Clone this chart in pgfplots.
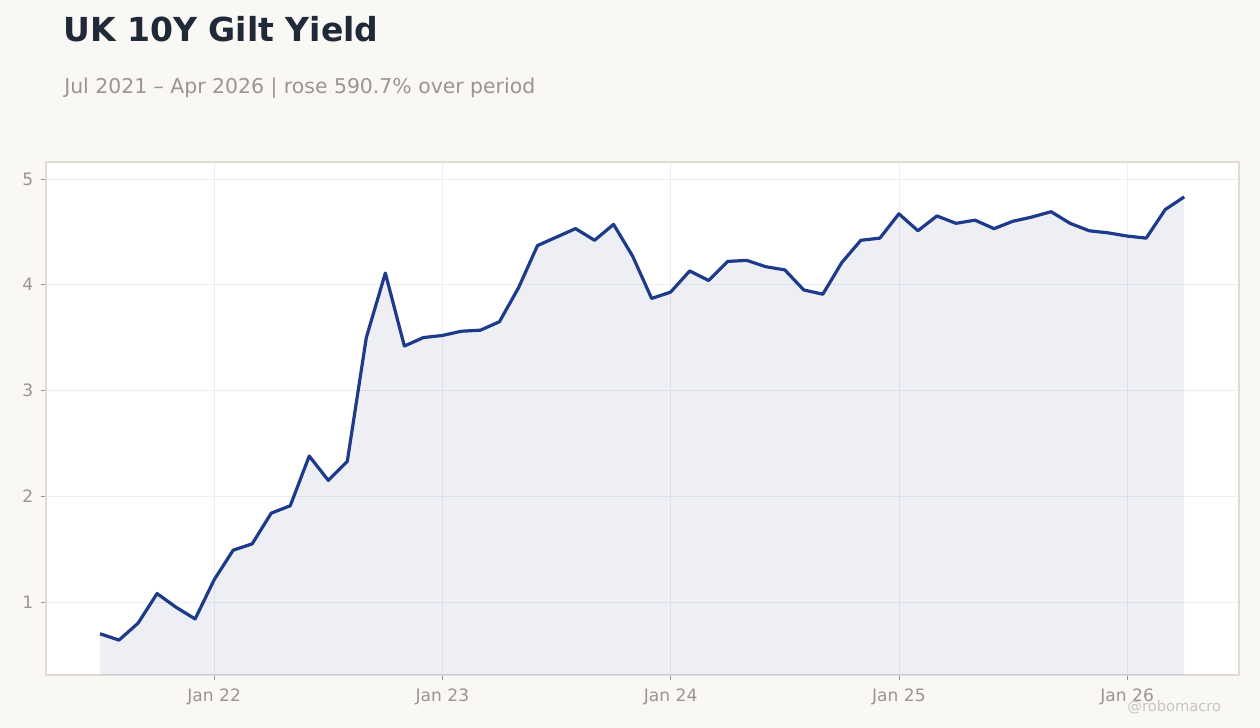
\documentclass[border=0pt]{standalone}
\usepackage{pgfplots}
\pgfplotsset{compat=1.18}
\usepackage{fontspec}
\setmainfont{DejaVu Sans}
\definecolor{bgpage}{HTML}{F9F8F5}
\definecolor{framec}{HTML}{E0DCD5}
\definecolor{gridc}{HTML}{EEEEEE}
\definecolor{tickc}{HTML}{9A958F}
\definecolor{linec}{HTML}{1E3A8A}
\definecolor{titlec}{HTML}{1F2937}
\definecolor{markc}{HTML}{C8C5C0}

\pgfplotstableread{
m y
0 0.70
1 0.64
2 0.80
3 1.08
4 0.95
5 0.84
6 1.21
7 1.49
8 1.55
9 1.84
10 1.91
11 2.38
12 2.15
13 2.33
14 3.50
15 4.11
16 3.42
17 3.50
18 3.52
19 3.56
20 3.57
21 3.65
22 3.97
23 4.37
24 4.45
25 4.53
26 4.42
27 4.57
28 4.27
29 3.87
30 3.93
31 4.13
32 4.04
33 4.22
34 4.23
35 4.17
36 4.14
37 3.95
38 3.91
39 4.21
40 4.42
41 4.44
42 4.67
43 4.51
44 4.65
45 4.58
46 4.61
47 4.53
48 4.60
49 4.64
50 4.69
51 4.58
52 4.51
53 4.49
54 4.46
55 4.44
56 4.71
57 4.83
}\gilt

\begin{document}
\begin{tikzpicture}
% page background, 1260x728 px at 0.75pt per px
\fill[bgpage] (0,0) rectangle (945pt,546pt);
\node[anchor=base west, inner sep=0, text=titlec, font=\fontsize{24.8}{29}\selectfont\bfseries]
  at (47.25pt,514.5pt) {UK 10Y Gilt Yield};
\node[anchor=base west, inner sep=0, text=tickc, font=\fontsize{15.3}{18}\selectfont]
  at (48pt,476.2pt) {Jul 2021 – Apr 2026 | rose 590.7\% over period};

\begin{axis}[
    at={(34.5pt,39.75pt)}, anchor=south west,
    scale only axis,
    width=894.75pt, height=384.75pt,
    xmin=-2.84, xmax=59.88,
    ymin=0.31, ymax=5.16,
    axis background/.style={fill=white},
    axis line style={framec, line width=0.8pt},
    xtick={6,18,30,42,54},
    xticklabels={Jan 22,Jan 23,Jan 24,Jan 25,Jan 26},
    ytick={1,2,3,4,5},
    tick align=outside,
    major tick length=4pt,
    tick style={tickc, line width=0.6pt},
    xtick pos=bottom, ytick pos=left,
    grid=major,
    major grid style={gridc, line width=0.6pt},
    ticklabel style={text=tickc, font=\fontsize{12.8}{15}\selectfont},
    /pgf/number format/assume math mode=true,
    xticklabel style={yshift=-3pt},
    yticklabel style={xshift=-2pt},
]
\addplot[draw=none, fill=linec, fill opacity=0.08] table[x=m, y=y] {\gilt} \closedcycle;
\addplot[linec, line width=2.4pt, line join=round] table[x=m, y=y] {\gilt};
\end{axis}

\node[anchor=base east, inner sep=0, text=markc, font=\fontsize{11}{13}\selectfont]
  at (916pt,12.5pt) {@robomacro};
\end{tikzpicture}
\end{document}
